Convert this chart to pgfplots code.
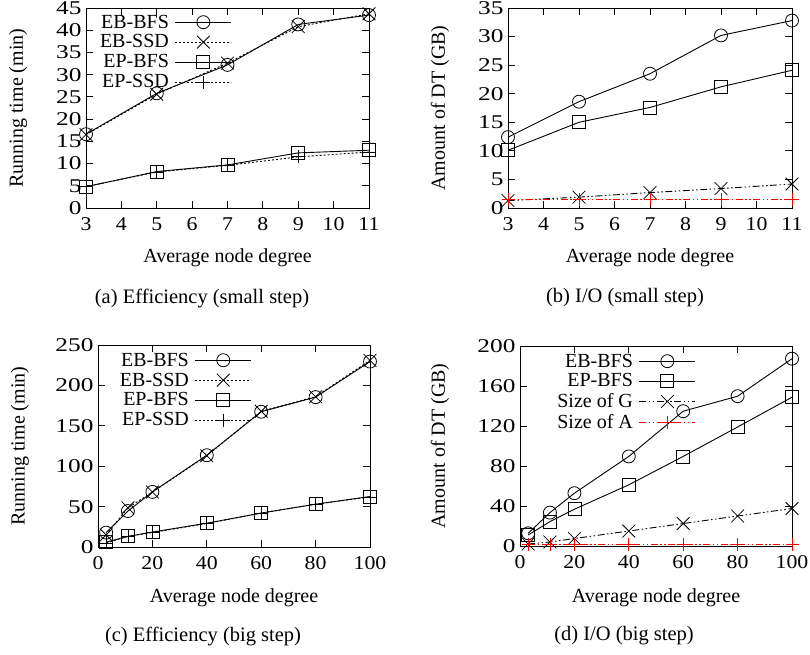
\documentclass[border=0pt]{standalone}
\usepackage{fontspec}
\setmainfont{Liberation Serif}
\newfontfamily\tickfont{Liberation Serif}[FakeStretch=1.12]
\newfontfamily\ytickfont{Liberation Serif}[FakeStretch=1.3]
\usepackage{pgfplots}
\pgfplotsset{compat=1.18}

\newcommand\lblfont{\fontsize{20}{24}\selectfont}
\pgfplotsset{
  panel/.style={
    scale only axis, clip=false,
    axis line style={line width=1pt},
    tick style={line width=0.8pt, black}, major tick length=7pt,
    /pgf/number format/assume math mode=true,
    xticklabel style={font=\fontsize{19.5}{24}\selectfont\tickfont, yshift=-6pt},
    yticklabel style={font=\fontsize{19.5}{24}\selectfont\ytickfont, xshift=-1pt},
    xlabel={Average node degree},
    every axis x label/.style={at={(axis description cs:0.5,-0.25)}, anchor=center, font=\lblfont},
    every axis y label/.style={at={(axis description cs:-0.24,0.5)}, rotate=90, anchor=center, font=\lblfont},
    legend style={draw=none, fill=none, inner sep=0pt,
      font=\fontsize{20}{24}\selectfont, nodes={inner ysep=2.6pt, inner xsep=6pt}},
    legend cell align=right, legend plot pos=right,
    legend image code/.code={\draw[mark repeat=2,mark phase=2,##1] plot coordinates {(0pt,0pt)(28pt,0pt)(56pt,0pt)};},
  },
  ebbfs/.style={black, line width=0.9pt, mark=o, mark size=6.5pt, mark options={solid, line width=0.8pt}},
  ebssd/.style={black, line width=0.9pt, dash pattern=on 2pt off 2pt, mark=x, mark size=9pt, mark options={solid, line width=0.8pt}},
  epbfs/.style={black, line width=0.9pt, mark=square, mark size=6.5pt, mark options={solid, line width=0.8pt}},
  epssd/.style={black, line width=0.9pt, dash pattern=on 2pt off 2pt, mark=+, mark size=6.5pt, mark options={solid, line width=0.8pt}},
  sizeg/.style={black, line width=0.9pt, dash pattern=on 7pt off 2.5pt on 1.5pt off 2.5pt on 1.5pt off 2.5pt, mark=x, mark size=9pt, mark options={solid, line width=0.8pt}},
  sizea/.style={color=red, line width=0.9pt, dash pattern=on 7pt off 2.5pt on 1.5pt off 2.5pt on 1.5pt off 2.5pt, mark=+, mark size=6.5pt, mark options={solid, red, line width=0.8pt}},
}

\begin{document}
\begin{tikzpicture}
\path[use as bounding box] (0,0) rectangle (810pt,-654pt);

% (a) running time, small step
\begin{axis}[panel, at={(86pt,-208pt)}, anchor=south west, width=283pt, height=200pt,
  xmin=3, xmax=11, ymin=0, ymax=45, xtick={3,...,11}, ytick={0,5,...,45},
  ylabel={Running time (min)},
  legend style={at={(0.516,0.98)}, anchor=north east}]
  \addplot[ebbfs] coordinates {(3,16.6)(5,25.8)(7,32.2)(9,41.3)(11,43.4)};
  \addlegendentry{EB-BFS}
  \addplot[ebssd] coordinates {(3,16.5)(5,25.6)(7,32.6)(9,40.8)(11,43.7)};
  \addlegendentry{EB-SSD}
  \addplot[epbfs] coordinates {(3,4.8)(5,8.2)(7,9.7)(9,12.4)(11,13.0)};
  \addlegendentry{EP-BFS}
  \addplot[epssd] coordinates {(3,4.8)(5,8.1)(7,9.6)(9,11.5)(11,12.6)};
  \addlegendentry{EP-SSD}
\end{axis}

% (b) I/O, small step
\begin{axis}[panel, at={(508pt,-208pt)}, anchor=south west, width=284pt, height=200pt,
  xmin=3, xmax=11, ymin=0, ymax=35, xtick={3,...,11}, ytick={0,5,...,35},
  ylabel={Amount of DT (GB)}]
  \addplot[ebbfs] coordinates {(3,12.4)(5,18.6)(7,23.5)(9,30.2)(11,32.8)};
  \addplot[epbfs] coordinates {(3,10.1)(5,15.0)(7,17.6)(9,21.2)(11,24.1)};
  \addplot[sizeg] coordinates {(3,1.3)(5,1.9)(7,2.7)(9,3.4)(11,4.2)};
  \addplot[sizea] coordinates {(3,1.5)(5,1.5)(7,1.5)(9,1.5)(11,1.5)};
\end{axis}

% (c) running time, big step
\begin{axis}[panel, at={(98pt,-547pt)}, anchor=south west, width=272pt, height=202pt,
  xmin=0, xmax=100, ymin=0, ymax=250, xtick={0,20,...,100}, ytick={0,50,...,250},
  ylabel={Running time (min)},
  every axis x label/.style={at={(axis description cs:0.5,-0.252)}, anchor=center, font=\lblfont},
  every axis y label/.style={at={(axis description cs:-0.287,0.5)}, rotate=90, anchor=center, font=\lblfont},
  legend style={at={(0.566,0.975)}, anchor=north east}]
  \addplot[ebbfs] coordinates {(3,17.8)(11,44.5)(20,68.2)(40,113.6)(60,167.4)(80,185.5)(100,229.5)};
  \addlegendentry{EB-BFS}
  \addplot[ebssd] coordinates {(3,15)(11,48.5)(20,68)(40,113)(60,168)(80,186)(100,231)};
  \addlegendentry{EB-SSD}
  \addplot[epbfs] coordinates {(3,6)(11,13.2)(20,18.5)(40,29.5)(60,42)(80,53)(100,62.5)};
  \addlegendentry{EP-BFS}
  \addplot[epssd] coordinates {(3,5)(11,13)(20,18)(40,29)(60,42)(80,53)(100,62)};
  \addlegendentry{EP-SSD}
\end{axis}

% (d) I/O, big step
\begin{axis}[panel, at={(520pt,-546pt)}, anchor=south west, width=272pt, height=200pt,
  xmin=0, xmax=100, ymin=0, ymax=200, xtick={0,20,...,100}, ytick={0,40,...,200},
  ylabel={Amount of DT (GB)},
  every axis x label/.style={at={(axis description cs:0.5,-0.26)}, anchor=center, font=\lblfont},
  every axis y label/.style={at={(axis description cs:-0.294,0.5)}, rotate=90, anchor=center, font=\lblfont},
  legend style={at={(0.647,0.975)}, anchor=north east}]
  \addplot[ebbfs] coordinates {(3,12.7)(11,33.4)(20,52.8)(40,89.6)(60,134.8)(80,149.8)(100,187.3)};
  \addlegendentry{EB-BFS}
  \addplot[epbfs] coordinates {(3,11)(11,24.4)(20,36.8)(40,61.2)(60,89.6)(80,119)(100,148.8)};
  \addlegendentry{EP-BFS}
  \addplot[sizeg] coordinates {(3,2)(11,4)(20,7.5)(40,15)(60,22.5)(80,30)(100,37.5)};
  \addlegendentry{Size of G}
  \addplot[sizea] coordinates {(3,1.5)(11,1.5)(20,1.5)(40,1.5)(60,1.5)(80,1.5)(100,1.5)};
  \addlegendentry{Size of A}
\end{axis}

\node[font=\fontsize{20.5}{24}\selectfont] at (202pt,-298pt) {(a) Efficiency (small step)};
\node[font=\fontsize{20.5}{24}\selectfont] at (625pt,-298pt) {(b) I/O (small step)};
\node[font=\fontsize{20.5}{24}\selectfont] at (203pt,-636pt) {(c) Efficiency (big step)};
\node[font=\fontsize{20.5}{24}\selectfont] at (624pt,-636pt) {(d) I/O (big step)};
\end{tikzpicture}
\end{document}
